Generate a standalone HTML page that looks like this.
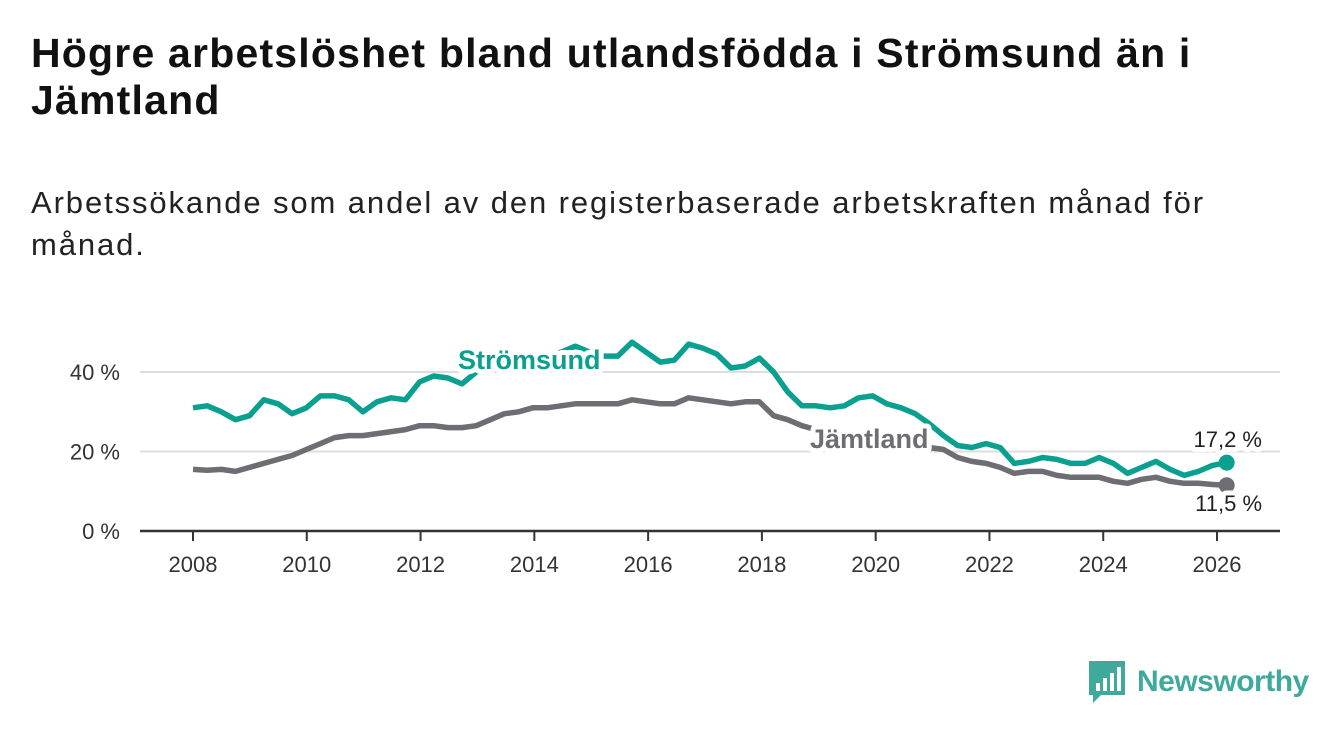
<!DOCTYPE html>
<html><head><meta charset="utf-8"><style>
body{margin:0;width:1340px;height:734px;background:#fff;font-family:"Liberation Sans",sans-serif;color:#111;overflow:hidden;position:relative}
h1{position:absolute;left:31px;top:30px;margin:0;font-size:41px;line-height:47px;font-weight:bold;letter-spacing:1.2px;white-space:nowrap}
p{position:absolute;left:31px;top:182px;margin:0;font-size:31px;line-height:42px;letter-spacing:1.9px;white-space:nowrap;color:#222}
</style></head><body>
<h1>Högre arbetslöshet bland utlandsfödda i Strömsund än i<br>Jämtland</h1>
<p>Arbetssökande som andel av den registerbaserade arbetskraften månad för<br>månad.</p>
<svg id="chart" width="1340" height="734" style="position:absolute;left:0;top:0"></svg>
<div style="position:absolute;left:1089px;top:661px;display:flex;align-items:center">
<svg width="38" height="42"><path d="M0 0H36V34H12L4 42V34H0Z" fill="#3fa99b"/><rect x="7" y="22" width="4" height="8" fill="#fff"/><rect x="14" y="17" width="4" height="13" fill="#fff"/><rect x="21" y="12" width="4" height="18" fill="#fff"/><rect x="28" y="6" width="4" height="24" fill="#fff"/></svg>
<span style="font-size:30px;color:#3fa99b;margin-left:10px;font-weight:bold;letter-spacing:-0.5px">Newsworthy</span></div>
<script>
const startYear=2008, endYear=2026.17;
const stromsund=[31,31.5,30,28,29,33,32,29.5,31,34,34,33,30,32.5,33.5,33,37.5,39,38.5,37,40,41,42,43,43,44,45,46.5,45,44,44,47.5,45,42.5,43,47,46,44.5,41,41.5,43.5,40,35,31.5,31.5,31,31.5,33.5,34,32,31,29.5,27,24,21.5,21,22,21,17,17.5,18.5,18,17,17,18.5,17,14.5,16,17.5,15.5,14,15,16.5,17.2];
const jamtland=[15.5,15.3,15.5,15,16,17,18,19,20.5,22,23.5,24,24,24.5,25,25.5,26.5,26.5,26,26,26.5,28,29.5,30,31,31,31.5,32,32,32,32,33,32.5,32,32,33.5,33,32.5,32,32.5,32.5,29,28,26.5,25.5,24.5,24,23.5,23,22.5,22,21.5,21,20.5,18.5,17.5,17,16,14.5,15,15,14,13.5,13.5,13.5,12.5,12,13,13.5,12.5,12,12,11.7,11.5];
const yTicks=[0,20,40];
const xTicks=[2008,2010,2012,2014,2016,2018,2020,2022,2024,2026];
const svg=document.getElementById('chart');const NS='http://www.w3.org/2000/svg';
const X=t=>193+(t-2008)*56.89, Y=v=>531-v*3.975;
function el(tag,a,parent){const e=document.createElementNS(NS,tag);for(const k in a)e.setAttribute(k,a[k]);(parent||svg).appendChild(e);return e;}
yTicks.forEach(v=>{
 if(v>0){const g=el('line',{x1:140,x2:1280,y1:Y(v),y2:Y(v),stroke:'#ddd','stroke-width':2});
 
 }
 const t=el('text',{x:120,y:Y(v)+8,'text-anchor':'end','font-size':22,fill:'#333','font-family':'Liberation Sans'});t.textContent=v+' %';
 
 
});
const ax=el('line',{x1:140,x2:1280,y1:531,y2:531,stroke:'#333','stroke-width':2.5});


xTicks.forEach(yr=>{
 const tk=el('line',{x1:X(yr),x2:X(yr),y1:531,y2:541,stroke:'#333','stroke-width':2});
 
 
 const t=el('text',{x:X(yr),y:572,'text-anchor':'middle','font-size':22,fill:'#333','font-family':'Liberation Sans'});t.textContent=yr;
 
 
});
function series(data,color,name){
 const step=(endYear-startYear)/(data.length-1);
 const d=data.map((v,i)=>(i?'L':'M')+X(startYear+i*step).toFixed(1)+' '+Y(v).toFixed(1)).join(' ');
 const p=el('path',{d:d,fill:'none',stroke:color,'stroke-width':5.5,'stroke-linejoin':'round'});
 
 
 const li=data.length-1;
 const c=el('circle',{cx:X(endYear),cy:Y(data[li]),r:8,fill:color});
 
 
}
series(jamtland,'#6e6d73','jamtland');
series(stromsund,'#0aa08f','stromsund');
function label(txt,x,y,color,name,size,bold,anchor){
 const t=el('text',{x:x,y:y,'font-size':size,'font-weight':bold?'bold':'normal',fill:color,stroke:'#fff','stroke-width':10,'paint-order':'stroke','stroke-linejoin':'round','font-family':'Liberation Sans','text-anchor':anchor||'start'});
 t.textContent=txt;
 
 
}
label('Strömsund',458,369,'#0aa08f','stromsund-label',27,true);
label('Jämtland',810,448,'#6e6d73','jamtland-label',27,true);
label('17,2 %',1262,447,'#222','stromsund-end-value',22,false,'end');
label('11,5 %',1262,511,'#222','jamtland-end-value',22,false,'end');
</script>
</body></html>
